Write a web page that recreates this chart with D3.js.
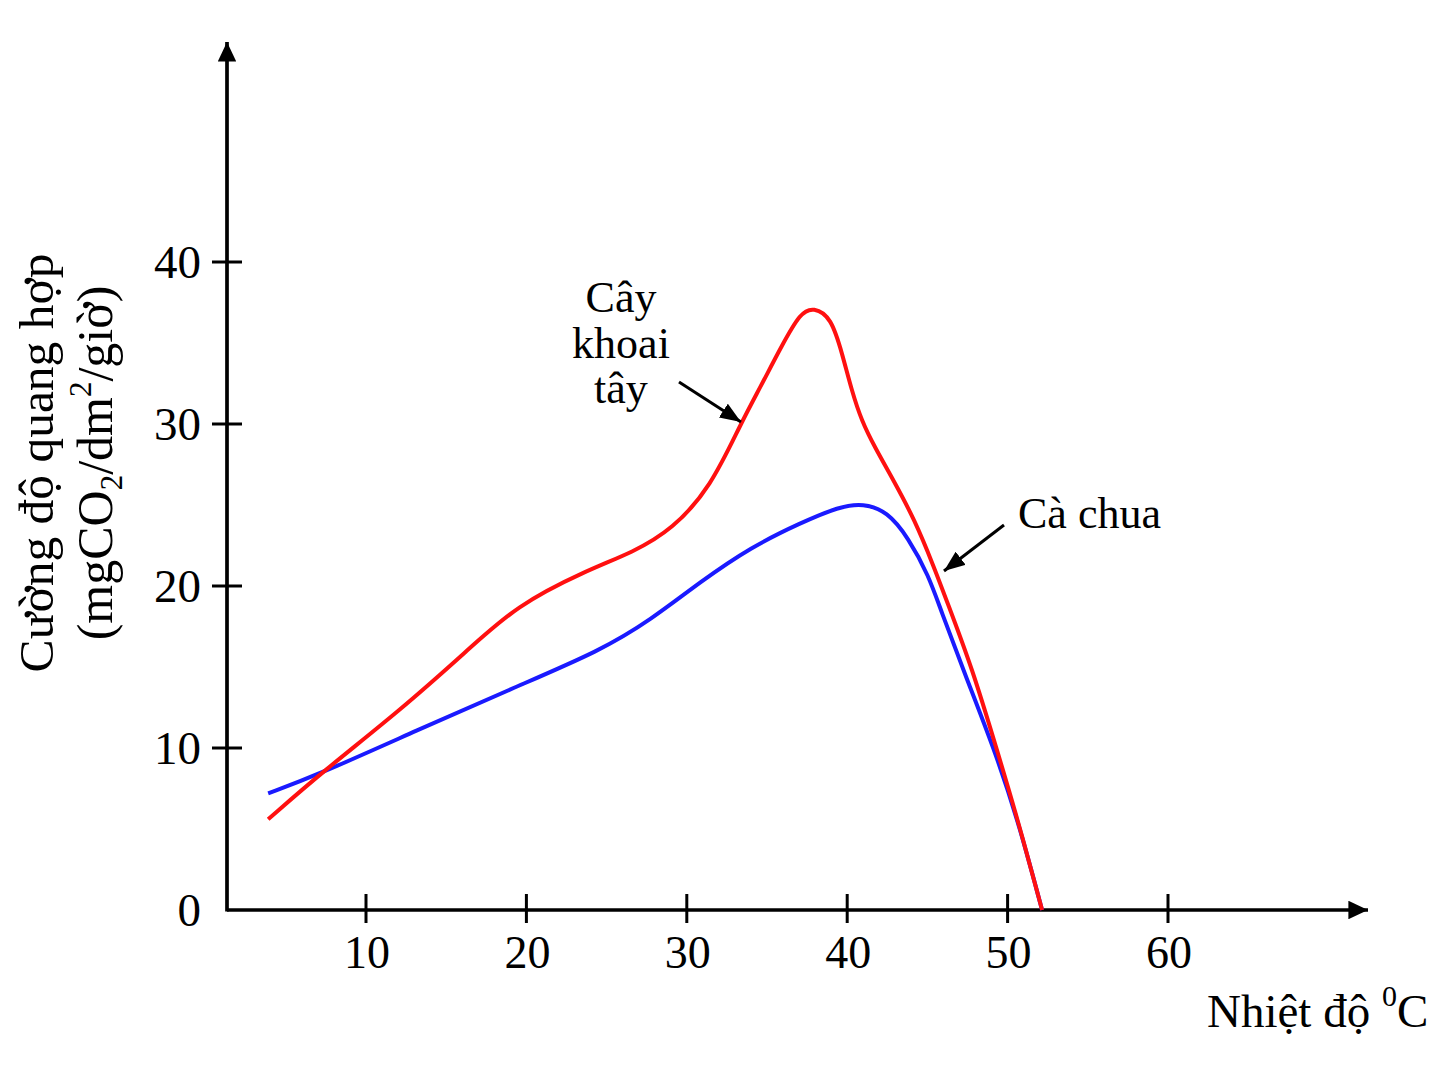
<!DOCTYPE html>
<html>
<head>
<meta charset="utf-8">
<script src="https://cdn.jsdelivr.net/npm/d3@7"></script>
<style>
  html, body { margin: 0; padding: 0; background: #fff; }
  svg { display: block; }
  text { font-family: "Liberation Serif", "Times New Roman", serif; fill: #000; }
</style>
</head>
<body>
<svg id="chart" width="1448" height="1086"></svg>
<script>
// ---- Data ----
const xTickValues = [10, 20, 30, 40, 50, 60];
const yTickValues = [0, 10, 20, 30, 40];

// Cây khoai tây (potato) – red
const potatoTemp = [3.9, 7.25, 12.1, 16.3, 19.4, 23.6, 26.7, 29.1, 31.5, 33.4, 34.6, 35.9, 37.1, 37.9, 39.0, 39.7, 40.3, 40.9, 41.7, 42.9, 44.2, 45.4, 46.2, 47.8, 49.3, 50.6, 52.15];
const potatoRate = [5.6, 8.5, 12.3, 16.0, 18.8, 20.9, 22.1, 23.5, 26.1, 30.1, 32.3, 34.8, 36.9, 37.2, 36.6, 34.3, 32.0, 30.2, 28.6, 26.5, 24.1, 21.2, 19.1, 14.9, 10.0, 5.7, 0];

// Cà chua (tomato) – blue
const tomatoTemp = [3.9, 6.9, 13.2, 19.4, 24.6, 27.75, 30.9, 34.0, 37.1, 39.5, 41.0, 42.5, 43.8, 45.1, 45.8, 47.4, 49.1, 50.6, 52.15];
const tomatoRate = [7.2, 8.3, 11.1, 13.8, 16.0, 17.9, 20.3, 22.4, 23.9, 24.9, 25.1, 24.6, 23.0, 20.6, 18.6, 14.4, 10.1, 5.7, 0];

// ---- Drawing ----
const svg = d3.select("#chart");
const x = d3.scaleLinear().domain([10, 60]).range([366, 1168]);
const y = d3.scaleLinear().domain([0, 40]).range([910, 262]);

const axisX0 = 227;      // y-axis position (px)
const axisXEnd = 1370;   // x-axis arrow tip
const axisYTop = 40;     // y-axis arrow tip

const defs = svg.append("defs");
defs.append("marker").attr("id", "axisArrow")
  .attr("viewBox", "0 0 10 10").attr("refX", 10).attr("refY", 5)
  .attr("preserveAspectRatio", "none")
  .attr("markerWidth", 5.3).attr("markerHeight", 5).attr("markerUnits", "strokeWidth")
  .attr("orient", "auto")
  .append("path").attr("d", "M0,0 L10,5 L0,10 Z").attr("fill", "#000");
defs.append("marker").attr("id", "ptrArrow")
  .attr("viewBox", "0 0 10 10").attr("refX", 10).attr("refY", 5)
  .attr("preserveAspectRatio", "none")
  .attr("markerWidth", 7).attr("markerHeight", 5.5).attr("markerUnits", "strokeWidth")
  .attr("orient", "auto")
  .append("path").attr("d", "M0,0 L10,5 L0,10 Z").attr("fill", "#000");

// Axes lines
svg.append("line").attr("x1", axisX0).attr("y1", y(0)).attr("x2", axisXEnd - 2).attr("y2", y(0))
  .attr("stroke", "#000").attr("stroke-width", 3.7).attr("marker-end", "url(#axisArrow)");
svg.append("line").attr("x1", axisX0).attr("y1", y(0) + 1.5).attr("x2", axisX0).attr("y2", axisYTop + 2)
  .attr("stroke", "#000").attr("stroke-width", 3.7).attr("marker-end", "url(#axisArrow)");

// X ticks
const xt = svg.append("g");
xt.selectAll("line").data(xTickValues).join("line")
  .attr("x1", d => x(d)).attr("x2", d => x(d))
  .attr("y1", y(0) - 16).attr("y2", y(0) + 13)
  .attr("stroke", "#000").attr("stroke-width", 3);
xt.selectAll("text").data(xTickValues).join("text")
  .attr("x", d => x(d) + 1).attr("y", 968)
  .attr("text-anchor", "middle").attr("font-size", 46)
  .text(d => d);

// Y ticks
const yt = svg.append("g");
yt.selectAll("line").data(yTickValues.filter(d => d > 0)).join("line")
  .attr("x1", axisX0 - 15).attr("x2", axisX0 + 15)
  .attr("y1", d => y(d)).attr("y2", d => y(d))
  .attr("stroke", "#000").attr("stroke-width", 3);
yt.selectAll("text").data(yTickValues).join("text")
  .attr("x", 201).attr("y", d => y(d) + 16)
  .attr("text-anchor", "end").attr("font-size", 47)
  .text(d => d);

// Curves (smooth B-spline through the read points)
const line = d3.line().x(d => x(d[0])).y(d => y(d[1])).curve(d3.curveBasis);
svg.append("path").datum(tomatoTemp.map((t, i) => [t, tomatoRate[i]]))
  .attr("d", line).attr("fill", "none").attr("stroke", "#1a1aff").attr("stroke-width", 4)
  .attr("stroke-linejoin", "round");
svg.append("path").datum(potatoTemp.map((t, i) => [t, potatoRate[i]]))
  .attr("d", line).attr("fill", "none").attr("stroke", "#ff1010").attr("stroke-width", 4)
  .attr("stroke-linejoin", "round");

// Labels
const lab = svg.append("text").attr("font-size", 44).attr("text-anchor", "middle");
[["Cây", 312], ["khoai", 358], ["tây", 403]].forEach(([t, by]) => {
  lab.append("tspan").attr("x", 621).attr("y", by).text(t);
});
svg.append("line").attr("x1", 679).attr("y1", 382).attr("x2", 741).attr("y2", 422)
  .attr("stroke", "#000").attr("stroke-width", 3).attr("marker-end", "url(#ptrArrow)");

svg.append("text").attr("x", 1018).attr("y", 528).attr("font-size", 44).text("Cà chua");
svg.append("line").attr("x1", 1004).attr("y1", 525).attr("x2", 944).attr("y2", 571)
  .attr("stroke", "#000").attr("stroke-width", 3).attr("marker-end", "url(#ptrArrow)");

// X axis title
const xt2 = svg.append("text").attr("x", 1207).attr("y", 1027).attr("font-size", 47);
xt2.append("tspan").text("Nhiệt độ ");
xt2.append("tspan").attr("font-size", 30).attr("dy", -21).text("0");
xt2.append("tspan").attr("dy", 21).text("C");

// Y axis title (rotated)
const yTitle = svg.append("g").attr("transform", "translate(0,463) rotate(-90)");
yTitle.append("text").attr("x", 0).attr("y", 53).attr("text-anchor", "middle")
  .attr("font-size", 49.5).text("Cường độ quang hợp");
const l2 = yTitle.append("text").attr("x", 0).attr("y", 112).attr("text-anchor", "middle")
  .attr("font-size", 50);
l2.append("tspan").text("(mgCO");
l2.append("tspan").attr("font-size", 31).attr("dy", 10).text("2");
l2.append("tspan").attr("dy", -10).text("/dm");
l2.append("tspan").attr("font-size", 31).attr("dy", -21).text("2");
l2.append("tspan").attr("dy", 21).text("/giờ)");
</script>
</body>
</html>
